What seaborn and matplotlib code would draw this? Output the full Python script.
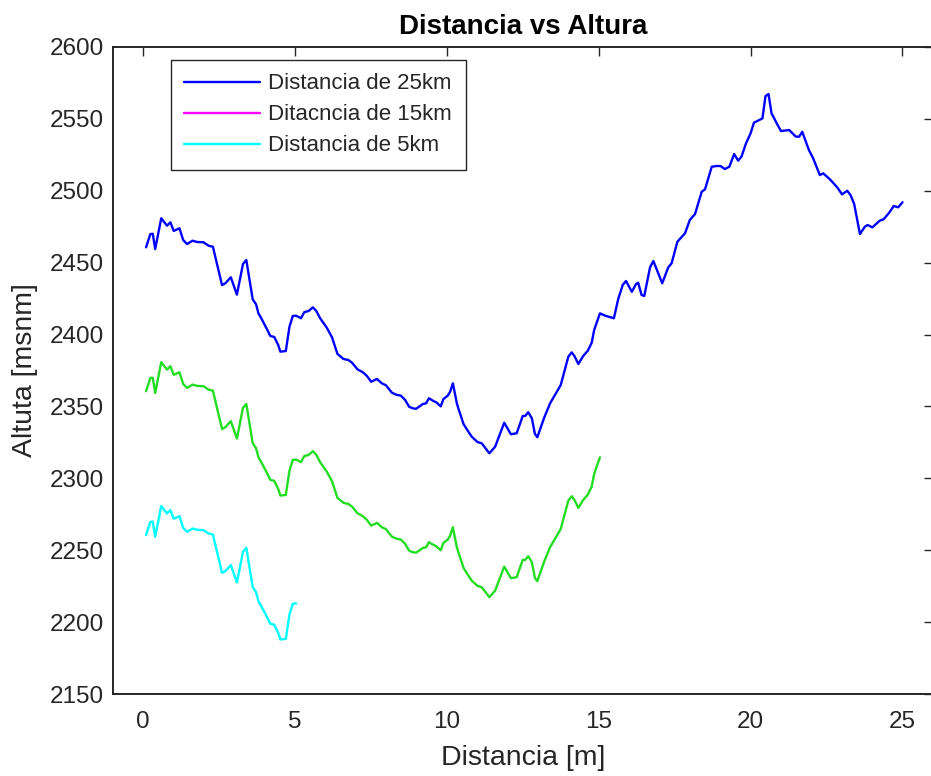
import numpy as np
import pandas as pd
import matplotlib
matplotlib.use('Agg')
import matplotlib.pyplot as plt
from matplotlib.lines import Line2D
import seaborn as sns

# perfil de 25 km (km, msnm)
distancia = [0.10, 0.24, 0.32, 0.40, 0.60, 0.79, 0.90, 1.01, 1.20, 1.32,
             1.45, 1.63, 1.78, 1.99, 2.16, 2.30, 2.60, 2.71, 2.89, 3.09,
             3.29, 3.40, 3.61, 3.72, 3.80, 3.91, 4.06, 4.19, 4.32, 4.45,
             4.52, 4.70, 4.82, 4.93, 5.04, 5.20, 5.31, 5.45, 5.59, 5.70,
             5.83, 6.05, 6.22, 6.40, 6.60, 6.76, 6.88, 7.06, 7.24, 7.37,
             7.51, 7.70, 7.86, 8.00, 8.19, 8.33, 8.49, 8.63, 8.76, 8.88,
             8.99, 9.21, 9.32, 9.41, 9.56, 9.65, 9.80, 9.89, 10.03, 10.11,
             10.20, 10.33, 10.38, 10.49, 10.55, 10.66, 10.82, 11.01, 11.15, 11.40,
             11.59, 11.89, 12.11, 12.30, 12.50, 12.58, 12.68, 12.80, 12.90, 12.98,
             13.21, 13.40, 13.56, 13.75, 14.00, 14.11, 14.20, 14.33, 14.49, 14.64,
             14.77, 14.85, 15.04, 15.21, 15.50, 15.64, 15.79, 15.90, 16.09, 16.23,
             16.30, 16.41, 16.50, 16.69, 16.80, 17.09, 17.29, 17.40, 17.59, 17.84,
             18.00, 18.17, 18.39, 18.50, 18.72, 18.88, 19.01, 19.15, 19.30, 19.46,
             19.59, 19.70, 19.85, 20.00, 20.11, 20.39, 20.49, 20.59, 20.69, 20.86,
             21.00, 21.27, 21.49, 21.60, 21.70, 21.92, 22.06, 22.28, 22.39, 22.61,
             22.85, 23.01, 23.18, 23.29, 23.41, 23.60, 23.76, 23.85, 24.01, 24.25,
             24.38, 24.56, 24.71, 24.86, 25.00]
altura = [2460.6, 2469.8, 2470.0, 2459.4, 2480.8, 2475.6, 2478.0, 2472.0, 2473.8, 2465.7,
          2462.9, 2465.2, 2464.3, 2464.1, 2461.7, 2461.0, 2434.4, 2435.6, 2439.8, 2427.7,
          2449.0, 2451.8, 2424.5, 2421.0, 2414.7, 2410.6, 2404.5, 2399.0, 2398.3, 2392.7,
          2388.1, 2388.5, 2405.4, 2412.9, 2413.1, 2411.3, 2415.6, 2416.3, 2418.9, 2416.5,
          2411.3, 2404.7, 2398.1, 2386.5, 2383.0, 2382.3, 2380.4, 2375.8, 2373.7, 2371.2,
          2367.2, 2369.1, 2366.1, 2364.7, 2359.6, 2358.2, 2357.5, 2354.5, 2349.8, 2348.7,
          2348.4, 2351.7, 2352.2, 2355.7, 2353.8, 2352.9, 2350.1, 2355.2, 2357.5, 2360.3,
          2366.1, 2352.2, 2348.7, 2341.8, 2337.8, 2334.1, 2329.0, 2325.3, 2324.4, 2317.5,
          2322.0, 2338.7, 2330.7, 2331.4, 2343.4, 2343.4, 2346.0, 2341.8, 2330.9, 2328.6,
          2342.5, 2352.2, 2358.0, 2364.9, 2384.6, 2387.6, 2385.1, 2379.5, 2385.1, 2388.7,
          2394.3, 2403.1, 2414.7, 2413.1, 2411.3, 2424.5, 2434.4, 2437.2, 2429.7, 2435.1,
          2436.0, 2427.5, 2426.8, 2446.7, 2451.1, 2435.6, 2446.7, 2449.5, 2464.5, 2470.3,
          2479.6, 2483.7, 2499.2, 2500.9, 2516.6, 2517.1, 2517.1, 2515.0, 2516.6, 2525.4,
          2520.8, 2523.6, 2532.9, 2539.8, 2547.2, 2550.2, 2565.7, 2567.1, 2553.7, 2546.8,
          2541.4, 2542.1, 2537.5, 2537.5, 2540.9, 2528.2, 2522.4, 2510.8, 2512.0, 2507.9,
          2502.3, 2497.4, 2499.9, 2496.9, 2490.7, 2469.8, 2474.9, 2476.1, 2474.5, 2479.1,
          2480.1, 2484.6, 2489.3, 2488.4, 2491.9]

# las otras dos curvas son el mismo perfil, recortado y desplazado hacia abajo
corte_15, bajada_15 = 15.04, 100
corte_5, bajada_5 = 5.04, 200

df = pd.DataFrame({'d': distancia, 'h': altura})
d15 = df[df.d <= corte_15].assign(h=lambda t: t.h - bajada_15)
d5 = df[df.d <= corte_5].assign(h=lambda t: t.h - bajada_5)

etiquetas = ['Distancia de 25km', 'Ditacncia de 15km', 'Distancia de 5km']

sns.set_theme(style='white')
plt.rcParams['font.family'] = ['Liberation Sans', 'DejaVu Sans']
gris = '#262626'

fig = plt.figure(figsize=(9.31, 7.76), dpi=100)
ax = fig.add_axes([0.121, 0.1053, 0.881, 0.8345])

sns.lineplot(data=df, x='d', y='h', ax=ax, color='#0000ff', lw=1.7,
             sort=False, estimator=None)
sns.lineplot(data=d15, x='d', y='h', ax=ax, color='#22dd22', lw=1.7,
             sort=False, estimator=None)
sns.lineplot(data=d5, x='d', y='h', ax=ax, color='#00ffff', lw=1.7,
             sort=False, estimator=None)

ax.set_xlim(-1, 26)
ax.set_ylim(2150, 2600)
ax.set_xticks(range(0, 26, 5))
ax.set_yticks(range(2150, 2601, 50))
ax.tick_params(direction='in', length=6.5, width=1.0, colors=gris,
               labelsize=17.5, top=True, right=True)
ax.tick_params(axis='x', pad=12)
ax.tick_params(axis='y', pad=6)
for s in ax.spines.values():
    s.set_color(gris)
    s.set_linewidth(1.4)

ax.set_xlabel('Distancia [m]', fontsize=20.5, color=gris, labelpad=9)
ax.set_ylabel('Altuta [msnm]', fontsize=20.5, color=gris, labelpad=9)
ax.set_title('Distancia vs Altura', fontsize=20, fontweight='bold', color='black', pad=9)

manijas = [Line2D([], [], color=c, lw=1.7) for c in ['#0000ff', '#ff00ff', '#00ffff']]
leg = ax.legend(manijas, etiquetas, loc='upper left', bbox_to_anchor=(0.0707, 0.9795),
                borderaxespad=0, fontsize=16, handlelength=3.4, handletextpad=0.4,
                frameon=True, fancybox=False, edgecolor=gris, framealpha=1,
                labelspacing=0.45, borderpad=0.6)
leg.get_frame().set_linewidth(1.0)

fig.savefig('out.png', dpi=100)
